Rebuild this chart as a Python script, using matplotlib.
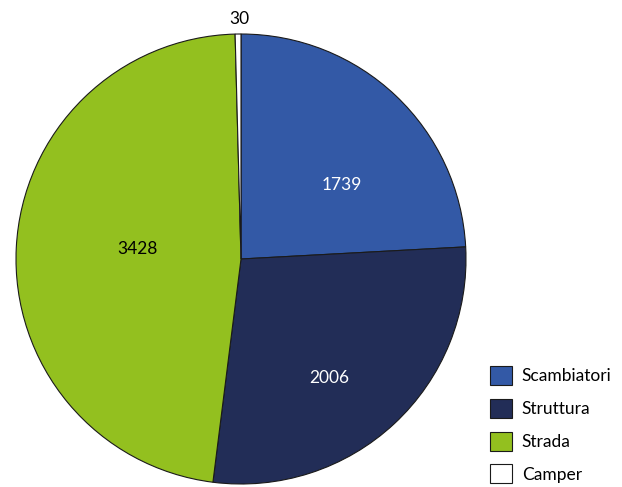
import matplotlib.pyplot as plt

plt.rcParams['font.family'] = ['Lato', 'DejaVu Sans']

categories = ['Scambiatori', 'Struttura', 'Strada', 'Camper']
values = [1739, 2006, 3428, 30]
colors = ['#3359a6', '#222d57', '#93c01f', '#ffffff']
label_colors = ['white', 'white', 'black', 'black']
# label positions in units of the pie radius
label_pos = [(0.45, 0.33), (0.39, -0.53), (-0.46, 0.045), (-0.005, 1.065)]

fig = plt.figure(figsize=(6.22, 4.87), dpi=100)
ax = fig.add_axes([16/622, 3/487, 450/622, 450/487])
wedges, _ = ax.pie(values, colors=colors, startangle=90, counterclock=False,
                   radius=1, wedgeprops=dict(edgecolor='#1a1a1a', linewidth=0.8))
ax.set_xlim(-1, 1)
ax.set_ylim(-1, 1)
ax.set_aspect('equal')

for v, (x, y), c in zip(values, label_pos, label_colors):
    ax.text(x, y, str(v), color=c, fontsize=12.5, ha='center', va='center', clip_on=False)

fig.legend(wedges, categories, loc='lower left', bbox_to_anchor=(481/622, -5/487),
           frameon=False, fontsize=12.5, handlelength=1.3, handleheight=1.3,
           labelspacing=0.8, handletextpad=0.55, borderpad=0)

fig.savefig('out.png', dpi=100)
